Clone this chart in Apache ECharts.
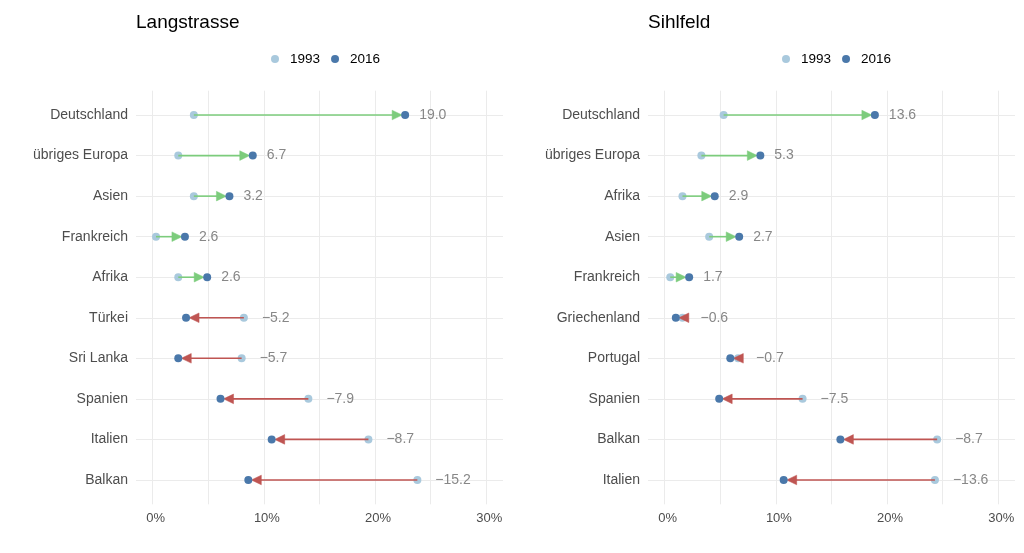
<!DOCTYPE html>
<html>
<head>
<meta charset="utf-8">
<script src="https://cdn.jsdelivr.net/npm/echarts@6/dist/echarts.min.js"></script>
<style>
html,body{margin:0;padding:0;background:#fff;}
#chart{width:1024px;height:553px;}
</style>
</head>
<body>
<div id="chart"></div>
<script>
// ---- Data ----
const titles = ['Langstrasse', 'Sihlfeld'];
const catsLang = ['Deutschland', 'übriges Europa', 'Asien', 'Frankreich', 'Afrika', 'Türkei', 'Sri Lanka', 'Spanien', 'Italien', 'Balkan'];
const lang1993 = [3.7, 2.3, 3.7, 0.3, 2.3, 8.2, 8.0, 14.0, 19.4, 23.8];
const lang2016 = [22.7, 9.0, 6.9, 2.9, 4.9, 3.0, 2.3, 6.1, 10.7, 8.6];
const langChange = [19.0, 6.7, 3.2, 2.6, 2.6, -5.2, -5.7, -7.9, -8.7, -15.2];

const catsSihl = ['Deutschland', 'übriges Europa', 'Afrika', 'Asien', 'Frankreich', 'Griechenland', 'Portugal', 'Spanien', 'Balkan', 'Italien'];
const sihl1993 = [5.3, 3.3, 1.6, 4.0, 0.5, 1.6, 6.6, 12.4, 24.5, 24.3];
const sihl2016 = [18.9, 8.6, 4.5, 6.7, 2.2, 1.0, 5.9, 4.9, 15.8, 10.7];
const sihlChange = [13.6, 5.3, 2.9, 2.7, 1.7, -0.6, -0.7, -7.5, -8.7, -13.6];

const xTicks = [0, 5, 10, 15, 20, 25, 30];
const xLabels = [0, 10, 20, 30];

// ---- Style ----
const C93 = '#a9c9dd';
const C16 = '#4a78aa';
const UP = '#7ccc7c';
const DOWN = '#bf5552';
const GRID = '#ebebeb';
const FONT = '"Liberation Sans", Arial, sans-serif';

const panels = [
  {cats: catsLang, a: lang1993, b: lang2016, ch: langChange, left: 136, width: 367, legendLeft: 271},
  {cats: catsSihl, a: sihl1993, b: sihl2016, ch: sihlChange, left: 648, width: 367, legendLeft: 782}
];

const grids = [], xAxes = [], yAxes = [], series = [], legends = [], titleOpts = [];
const idx = [0,1,2,3,4,5,6,7,8,9];

panels.forEach((p, k) => {
  grids.push({left: p.left, width: p.width, top: 90.7, height: 413.6, containLabel: false});
  titleOpts.push({text: titles[k], left: p.left, top: 13, padding: 0,
    textStyle: {fontFamily: FONT, fontSize: 19, fontWeight: 'normal', color: '#000'}});
  legends.push({data: ['1993', '2016'], left: p.legendLeft, top: 52, padding: 0,
    itemWidth: 8, itemHeight: 8, itemGap: 11,
    icon: 'circle', textStyle: {fontFamily: FONT, fontSize: 13.5, color: '#000', padding: [0, 0, 0, 6]},
    selectedMode: false});
  xAxes.push({type: 'value', gridIndex: k, min: -1.5, max: 31.5,
    axisLine: {show: false},
    axisTick: {show: false, customValues: xTicks},
    splitLine: {show: true, lineStyle: {color: GRID, width: 1}},
    axisLabel: {customValues: xLabels, formatter: v => v + '%', margin: 8,
      color: '#4d4d4d', fontFamily: FONT, fontSize: 13, padding: [0, 0, 0, 6]}
  });
  yAxes.push({type: 'value', gridIndex: k, inverse: true, min: -0.6, max: 9.6,
    axisLine: {show: false},
    axisTick: {show: false, customValues: idx},
    splitLine: {show: true, lineStyle: {color: GRID, width: 1}},
    axisLabel: {customValues: idx, formatter: v => p.cats[Math.round(v)] || '', margin: 8,
      color: '#4d4d4d', fontFamily: FONT, fontSize: 14}
  });
  // 1993 dots
  series.push({name: '1993', type: 'scatter', xAxisIndex: k, yAxisIndex: k, symbolSize: 8, z: 2,
    itemStyle: {color: C93, opacity: 1}, data: p.a.map((v, i) => [v, i])});
  // arrows + labels
  series.push({name: 'arrows' + k, type: 'custom', xAxisIndex: k, yAxisIndex: k, z: 3,
    data: p.a.map((v, i) => [v, p.b[i], i, p.ch[i]]),
    renderItem: function (params, api) {
      const v0 = api.value(0), v1 = api.value(1), i = api.value(2), ch = api.value(3);
      const s = api.coord([v0, i]);
      const e = api.coord([v1, i]);
      const dir = v1 >= v0 ? 1 : -1;
      const col = dir > 0 ? UP : DOWN;
      const tipX = e[0] - dir * 3;
      const len = 10, hw = 4.8;
      const baseX = tipX - dir * len;
      const labX = Math.max(s[0], e[0]) + (ch < 0 ? 18 : 14);
      const txt = (ch < 0 ? '\u2212' : '') + Math.abs(ch).toFixed(1);
      return {type: 'group', children: [
        {type: 'line', shape: {x1: s[0], y1: s[1], x2: baseX + dir * 2, y2: e[1]},
          style: {stroke: col, lineWidth: 1.6}},
        {type: 'polygon', shape: {points: [[tipX, e[1]], [baseX, e[1] - hw], [baseX, e[1] + hw]]},
          style: {fill: col, stroke: col, lineWidth: 0.5}},
        {type: 'text', x: labX, y: e[1], style: {text: txt, fill: '#878787', fontFamily: FONT,
          fontSize: 14, textAlign: 'left', textVerticalAlign: 'middle'}}
      ]};
    }
  });
  // 2016 dots
  series.push({name: '2016', type: 'scatter', xAxisIndex: k, yAxisIndex: k, symbolSize: 8, z: 4,
    itemStyle: {color: C16, opacity: 1}, data: p.b.map((v, i) => [v, i])});
});

const chart = echarts.init(document.getElementById('chart'), null, {renderer: 'canvas'});
chart.setOption({
  animation: false,
  backgroundColor: '#fff',
  title: titleOpts,
  legend: legends,
  grid: grids,
  xAxis: xAxes,
  yAxis: yAxes,
  series: series
});
</script>
</body>
</html>
